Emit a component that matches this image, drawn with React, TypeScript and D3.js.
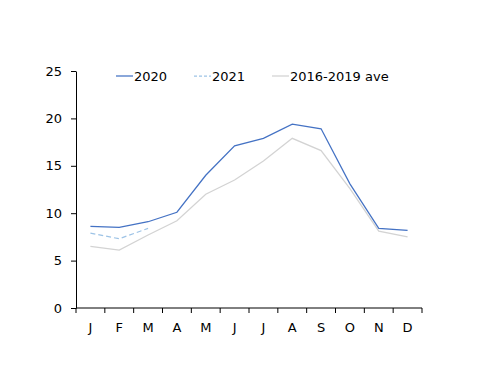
import React, { useRef, useEffect } from 'react';
import * as d3 from 'd3';

const months = ['J', 'F', 'M', 'A', 'M', 'J', 'J', 'A', 'S', 'O', 'N', 'D'];
const y2020 = [8.6, 8.5, 9.1, 10.1, 14.0, 17.1, 17.9, 19.4, 18.9, 13.1, 8.4, 8.2];
const y2021 = [7.9, 7.3, 8.4];
const yAve = [6.5, 6.1, 7.7, 9.2, 12.0, 13.5, 15.5, 17.9, 16.6, 12.6, 8.1, 7.5];
const yTicks = [0, 5, 10, 15, 20, 25];

const series = [
  { name: '2020', values: y2020, color: '#4472C4', dash: null, lx: 116 },
  { name: '2021', values: y2021, color: '#9DC3E6', dash: '5,3', lx: 194 },
  { name: '2016-2019 ave', values: yAve, color: '#D3D3D3', dash: null, lx: 272 },
];

const App = () => {
  const ref = useRef<SVGSVGElement>(null);

  useEffect(() => {
    const root = d3.select(ref.current);
    root.selectAll('*').remove();

    const margin = { top: 71, left: 76 };
    const width = 346;
    const height = 237;
    const font = 'DejaVu Sans, sans-serif';

    const svg = root.append('g').attr('transform', `translate(${margin.left},${margin.top})`);

    const x = d3.scaleBand<number>().domain(d3.range(12)).range([0, width]);
    const y = d3.scaleLinear().domain([0, 25]).range([height, 0]);

    // y axis
    const yAxis = d3.axisLeft(y).tickValues(yTicks).tickSize(5).tickSizeOuter(0);
    const yg = svg.append('g').call(yAxis);
    yg.select('.domain').attr('stroke', '#000');
    yg.selectAll('text').attr('font-family', font).attr('font-size', 13).attr('fill', '#000').attr('x', -14);

    // x axis
    const xg = svg.append('g').attr('transform', `translate(0,${height})`);
    xg.append('line').attr('x1', 0).attr('x2', width).attr('stroke', '#000');
    const edges = d3.range(13).map((i) => (i < 12 ? x(i)! : width));
    xg.selectAll('line.tk')
      .data(edges)
      .enter()
      .append('line')
      .attr('class', 'tk')
      .attr('x1', (d) => d)
      .attr('x2', (d) => d)
      .attr('y1', 0)
      .attr('y2', 5)
      .attr('stroke', '#000');
    xg.selectAll('text')
      .data(months)
      .enter()
      .append('text')
      .attr('x', (d, i) => x(i)! + x.bandwidth() / 2)
      .attr('y', 24)
      .attr('text-anchor', 'middle')
      .attr('font-family', font)
      .attr('font-size', 13)
      .text((d) => d);

    const line = d3
      .line<number>()
      .x((d, i) => x(i)! + x.bandwidth() / 2)
      .y((d) => y(d));

    // draw average first so the 2020 line sits on top
    [...series].reverse().forEach((s) => {
      svg
        .append('path')
        .datum(s.values)
        .attr('d', line)
        .attr('fill', 'none')
        .attr('stroke', s.color)
        .attr('stroke-width', 1.25)
        .attr('stroke-dasharray', s.dash);
    });

    // legend
    const lg = root.append('g');
    series.forEach((s) => {
      lg.append('line')
        .attr('x1', s.lx)
        .attr('x2', s.lx + 17)
        .attr('y1', 76)
        .attr('y2', 76)
        .attr('stroke', s.color)
        .attr('stroke-width', 1.25)
        .attr('stroke-dasharray', s.dash ? '3,2' : null);
      lg.append('text')
        .attr('x', s.lx + 18)
        .attr('y', 81)
        .attr('font-family', font)
        .attr('font-size', 13)
        .text(s.name);
    });
  }, []);

  return (
    <svg
      ref={ref}
      width={500}
      height={386}
      style={{ position: 'absolute', left: 0, top: 0, background: '#fff' }}
    ></svg>
  );
};

export default App;
